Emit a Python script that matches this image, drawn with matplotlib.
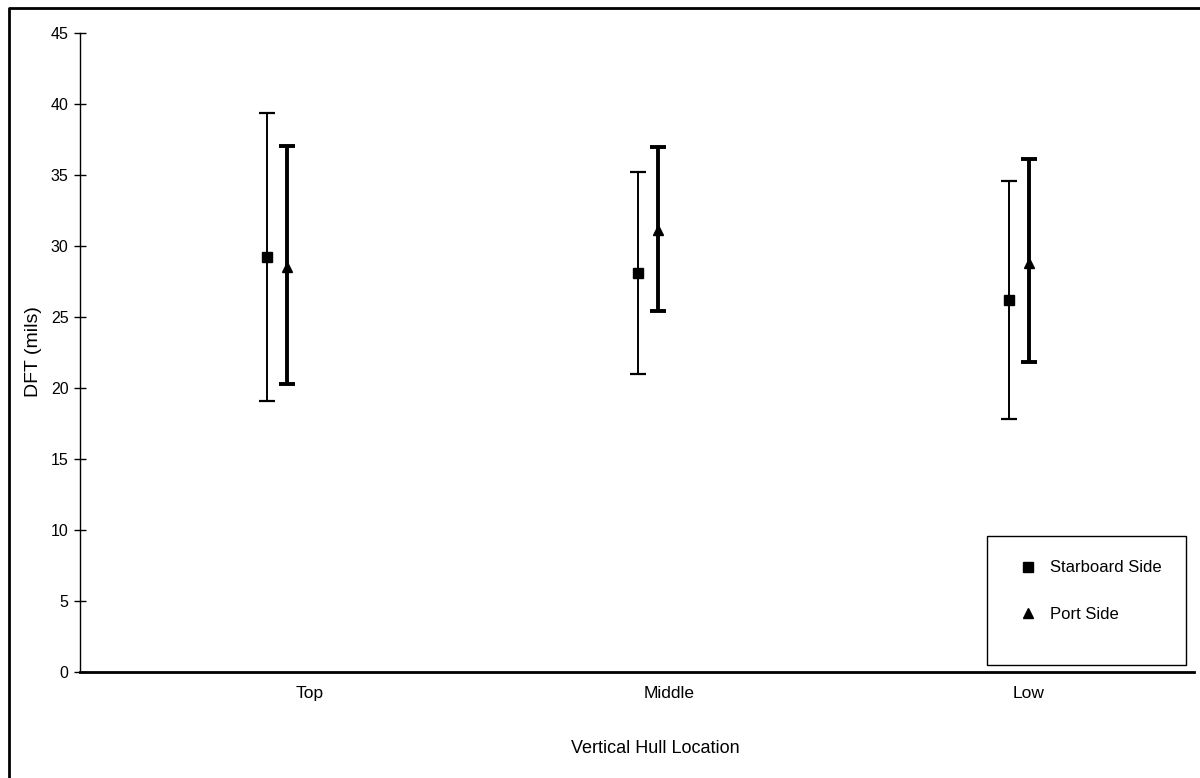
import numpy as np
import matplotlib.pyplot as plt
from matplotlib.lines import Line2D
from matplotlib.patches import Rectangle

plt.rcParams['font.family'] = ['Liberation Sans', 'DejaVu Sans']

locations = ["Top", "Middle", "Low"]

starboard_mean = [29.2, 28.1, 26.2]
starboard_low = [19.1, 21.0, 17.8]
starboard_high = [39.4, 35.2, 34.6]

port_mean = [28.5, 31.1, 28.8]
port_low = [20.3, 25.45, 21.85]
port_high = [37.05, 37.0, 36.1]

x = np.arange(len(locations))
off = 0.027

fig = plt.figure(figsize=(12, 7.78), dpi=100)
ax = fig.add_axes([80/1200, 1 - 672/778, 1114/1200, 639/778])

sm = np.array(starboard_mean)
pm = np.array(port_mean)
s_err = [sm - np.array(starboard_low), np.array(starboard_high) - sm]
p_err = [pm - np.array(port_low), np.array(port_high) - pm]

ax.errorbar(x - off, sm, yerr=s_err, fmt='s', color='black', markersize=7,
            elinewidth=1.4, capsize=6, capthick=1.6, zorder=3)
ax.errorbar(x + off, pm, yerr=p_err, fmt='^', color='black', markersize=7.5,
            elinewidth=2.8, capsize=6, capthick=2.8, zorder=3)

ax.set_xlim(-0.531, 2.472)
ax.set_ylim(0, 45)
ax.set_yticks(np.arange(0, 46, 5))
# category labels sit slightly right of the marker pairs
ax.set_xticks(0.089 + x * 0.968)
ax.set_xticklabels(locations, fontsize=12.5)
ax.tick_params(axis='x', length=0, pad=10)
ax.tick_params(axis='y', direction='inout', length=8.5, width=1,
               labelsize=11.5, pad=4)

for s in ['top', 'right']:
    ax.spines[s].set_visible(False)
ax.spines['left'].set_linewidth(1.0)
ax.spines['bottom'].set_linewidth(2.0)

ax.set_ylabel("DFT (mils)", fontsize=14)
ax.yaxis.set_label_coords(-0.034, 0.501)
ax.set_xlabel("Vertical Hull Location", fontsize=13)
ax.xaxis.set_label_coords(0.516, -0.106)

handles = [Line2D([], [], marker='s', color='black', linestyle='none', markersize=6.5),
           Line2D([], [], marker='^', color='black', linestyle='none', markersize=7.5)]
leg = ax.legend(handles, ["Starboard Side", "Port Side"], loc='upper left',
                bbox_to_anchor=(0.8398, 0.1745), fontsize=12, labelspacing=1.9,
                borderpad=0, handletextpad=0.55, handlelength=1.5,
                frameon=False, borderaxespad=0)
ax.add_patch(Rectangle((0.8142, 0.011), 0.1786, 0.2019, transform=ax.transAxes,
                       fill=False, edgecolor='black', linewidth=1.0, zorder=4))

# outer chart border (left and top edges only)
fig.add_artist(Line2D([9/1200, 9/1200, 1], [0, 1 - 8/778, 1 - 8/778],
                      transform=fig.transFigure, color='black', linewidth=2))

fig.savefig("out.png", dpi=100)
